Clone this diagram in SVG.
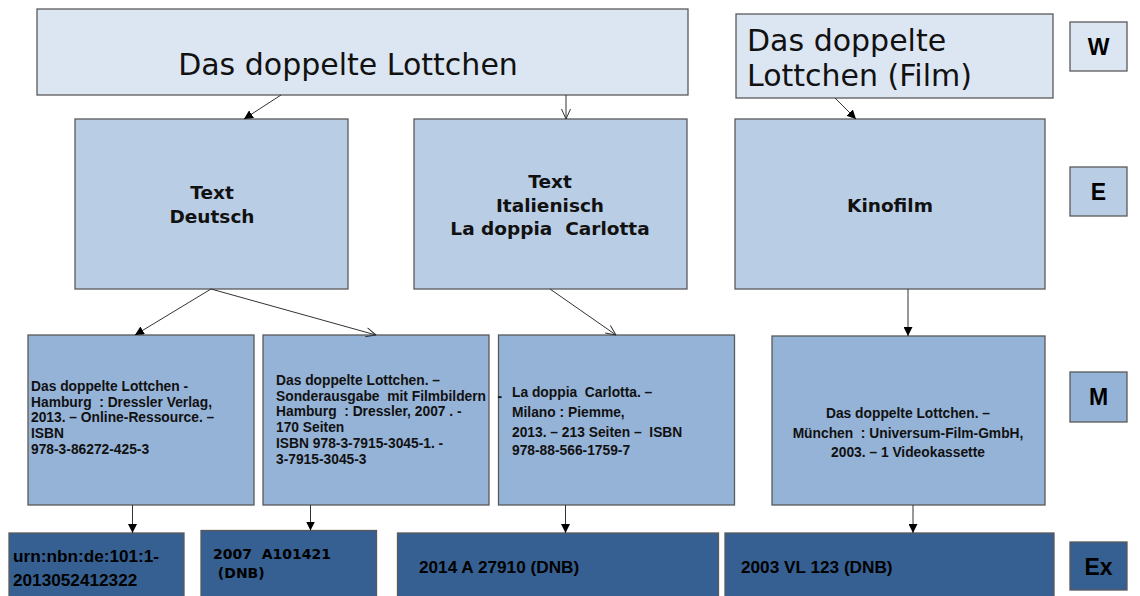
<svg xmlns="http://www.w3.org/2000/svg" width="1140" height="596" viewBox="0 0 1140 596">
<style>
.box{stroke:#5a5a5a;stroke-width:1.3}
.w{fill:#dce6f2}
.e{fill:#b9cde5}
.m{fill:#95b3d7}
.x{fill:#366092}
.wt{font-family:"DejaVu Sans",Verdana,sans-serif;font-size:30px;fill:#111}
.et{font-family:"DejaVu Sans",Verdana,sans-serif;font-weight:bold;font-size:18.5px;fill:#111;text-anchor:middle}
.mt{font-family:"Liberation Sans",Arial,sans-serif;font-weight:bold;font-size:13.8px;fill:#111}
.xt{font-family:"Liberation Sans",Arial,sans-serif;font-weight:bold;font-size:17.2px;fill:#000}
.xv{font-family:"DejaVu Sans",Verdana,sans-serif;font-weight:bold;font-size:14px;fill:#000}
.lt{font-family:"Liberation Sans",Arial,sans-serif;font-weight:bold;font-size:23px;fill:#000;text-anchor:middle}
.c{stroke:#333;stroke-width:1;fill:none}
</style>
<defs>
<marker id="fa" viewBox="0 0 10 10" refX="10" refY="5" markerWidth="9" markerHeight="9" markerUnits="userSpaceOnUse" orient="auto"><path d="M0,0 L10,5 L0,10 z" fill="#000"/></marker>
<marker id="oa" viewBox="0 0 10 10" refX="10" refY="5" markerWidth="11" markerHeight="10" markerUnits="userSpaceOnUse" orient="auto"><path d="M0,0.5 L10,5 L0,9.5" fill="none" stroke="#333" stroke-width="1"/></marker>
</defs>

<g id="w-main"><rect class="box w" x="37" y="9" width="651" height="86"/><text class="wt" x="348" y="75" text-anchor="middle">Das doppelte Lottchen</text></g>
<g id="w-film"><rect class="box w" x="736" y="14" width="317" height="84"/><text class="wt" x="747" y="51">Das doppelte</text><text class="wt" x="747" y="86">Lottchen (Film)</text></g>
<g id="label-w"><rect class="box w" x="1070" y="22" width="57" height="49"/><text class="lt" x="1098.5" y="55">W</text></g>

<g id="e-deutsch"><rect class="box e" x="75" y="119" width="273" height="170"/><text class="et" x="212" y="199">Text</text><text class="et" x="212" y="223">Deutsch</text></g>
<g id="e-ital"><rect class="box e" x="414" y="119" width="273" height="170"/><text class="et" x="550" y="188">Text</text><text class="et" x="550" y="211.5">Italienisch</text><text class="et" x="550" y="235" xml:space="preserve">La doppia  Carlotta</text></g>
<g id="e-film"><rect class="box e" x="735" y="119" width="310" height="170"/><text class="et" x="890" y="212">Kinofilm</text></g>
<g id="label-e"><rect class="box e" x="1070" y="167" width="57" height="49"/><text class="lt" x="1098.5" y="200">E</text></g>

<g id="m1"><rect class="box m" x="28" y="335" width="226" height="170"/>
<text class="mt" x="31" y="391">Das doppelte Lottchen -</text>
<text class="mt" x="31" y="406.7" xml:space="preserve">Hamburg  : Dressler Verlag,</text>
<text class="mt" x="31" y="422.4">2013. – Online-Ressource. –</text>
<text class="mt" x="31" y="438.1">ISBN</text>
<text class="mt" x="31" y="453.8">978-3-86272-425-3</text></g>
<g id="m3"><rect class="box m" x="498.5" y="335" width="236" height="170"/>
<text class="mt" x="512" y="397" xml:space="preserve">La doppia  Carlotta. –</text>
<text class="mt" x="512" y="417">Milano : Piemme,</text>
<text class="mt" x="512" y="436.5" xml:space="preserve">2013. – 213 Seiten –  ISBN</text>
<text class="mt" x="512" y="455">978-88-566-1759-7</text></g>
<g id="m2"><rect class="box m" x="263" y="335" width="226" height="170"/>
<text class="mt" x="276" y="385">Das doppelte Lottchen. –</text>
<text class="mt" x="276" y="400.7" xml:space="preserve">Sonderausgabe  mit Filmbildern   -</text>
<text class="mt" x="276" y="416.4" xml:space="preserve">Hamburg  : Dressler, 2007 . -</text>
<text class="mt" x="276" y="432.1">170 Seiten</text>
<text class="mt" x="276" y="447.8">ISBN 978-3-7915-3045-1. -</text>
<text class="mt" x="276" y="463.5">3-7915-3045-3</text></g>
<g id="m4"><rect class="box m" x="772" y="336" width="273" height="169"/>
<text class="mt" x="908" y="418" text-anchor="middle">Das doppelte Lottchen. –</text>
<text class="mt" x="908" y="438" text-anchor="middle" xml:space="preserve">München  : Universum-Film-GmbH,</text>
<text class="mt" x="908" y="457" text-anchor="middle">2003. – 1 Videokassette</text></g>
<g id="label-m"><rect class="box m" x="1070" y="372" width="57" height="50"/><text class="lt" x="1098.5" y="405">M</text></g>

<g id="ex1"><rect class="box x" x="9" y="533" width="175" height="70"/><text class="xt" x="13" y="562">urn:nbn:de:101:1-</text><text class="xt" x="13" y="586">2013052412322</text></g>
<g id="ex2"><rect class="box x" x="201" y="530.5" width="175.5" height="72"/><text class="xv" x="213" y="559" xml:space="preserve">2007  A101421</text><text class="xv" x="213" y="578" xml:space="preserve"> (DNB)</text></g>
<g id="ex3"><rect class="box x" x="397.5" y="533" width="321" height="70"/><text class="xt" x="419" y="573">2014 A 27910 (DNB)</text></g>
<g id="ex4"><rect class="box x" x="725" y="533" width="329" height="70"/><text class="xt" x="741" y="573">2003 VL 123 (DNB)</text></g>
<g id="label-ex"><rect class="box x" x="1070" y="542" width="57" height="48"/><text class="lt" x="1098.5" y="575">Ex</text></g>

<g id="connectors">
<line class="c" x1="281" y1="95" x2="244" y2="119" marker-end="url(#fa)"/>
<line class="c" x1="566" y1="95" x2="566" y2="119" marker-end="url(#oa)"/>
<line class="c" x1="835" y1="98" x2="856" y2="119" marker-end="url(#fa)"/>
<line class="c" x1="211" y1="289" x2="135" y2="335" marker-end="url(#fa)"/>
<line class="c" x1="211" y1="289" x2="376" y2="335" marker-end="url(#oa)"/>
<line class="c" x1="550" y1="289" x2="616" y2="335" marker-end="url(#oa)"/>
<line class="c" x1="908" y1="289" x2="908" y2="336" marker-end="url(#fa)"/>
<line class="c" x1="132.5" y1="505" x2="132.5" y2="533" marker-end="url(#fa)"/>
<line class="c" x1="310.5" y1="505" x2="310.5" y2="530.5" marker-end="url(#fa)"/>
<line class="c" x1="565.5" y1="505" x2="565.5" y2="533" marker-end="url(#fa)"/>
<line class="c" x1="913" y1="505" x2="913" y2="533" marker-end="url(#fa)"/>
</g>
</svg>
